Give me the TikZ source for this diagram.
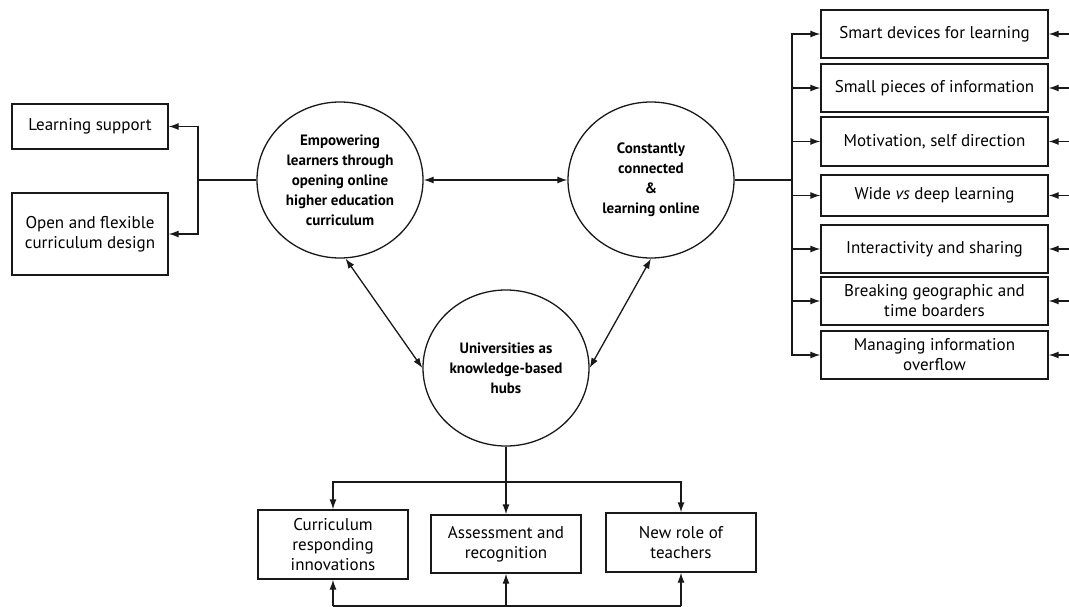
\documentclass[tikz,border=0pt]{standalone}
\usepackage{fontspec}
\setmainfont{PT Sans}
\usepackage{tikz}
\usetikzlibrary{shapes.geometric, positioning, arrows.meta}

\begin{document}
\begin{tikzpicture}[x=1pt, y=-1pt, >={Latex[length=10pt, width=7pt]}, line width=1.3pt, draw=black!90]
\tikzstyle{hub}=[ellipse, draw, minimum width=166pt, minimum height=156pt, inner sep=0pt, align=center, font=\fontsize{15}{20}\selectfont\bfseries]
\tikzstyle{item}=[rectangle, draw, inner sep=0pt, align=center, font=\fontsize{17}{20}\selectfont]
\useasboundingbox (0,0) rectangle (1069,607);

% hubs
\node[hub] (empower) at (340,180) {Empowering\\learners through\\opening online\\higher education\\curriculum};
\node[hub] (connect) at (651,180) {Constantly\\connected\\\&\\learning online};
\node[hub] (univ) at (506,368) {Universities as\\knowledge-based\\hubs};

% left boxes
\node[item, minimum width=156pt, minimum height=45pt] (support) at (90,126.5) {Learning support};
\node[item, minimum width=156pt, minimum height=82pt] (design) at (90,234) {Open and flexible\\curriculum design};

% right boxes
\node[item, minimum width=227pt, minimum height=48pt] (r1) at (934.5,34) {Smart devices for learning};
\node[item, minimum width=227pt, minimum height=48pt] (r2) at (934.5,88) {Small pieces of information};
\node[item, minimum width=227pt, minimum height=49pt] (r3) at (934.5,141.5) {Motivation, self direction};
\node[item, minimum width=227pt, minimum height=41pt] (r4) at (934.5,195.5) {Wide \emph{vs} deep learning};
\node[item, minimum width=227pt, minimum height=48pt] (r5) at (934.5,249) {Interactivity and sharing};
\node[item, minimum width=227pt, minimum height=48pt] (r6) at (934.5,301) {Breaking geographic and\\time boarders};
\node[item, minimum width=227pt, minimum height=48pt] (r7) at (934.5,355) {Managing information\\overflow};

% bottom boxes
\node[item, minimum width=150pt, minimum height=69pt] (b1) at (333,544.5) {Curriculum\\responding\\innovations};
\node[item, minimum width=150pt, minimum height=58pt] (b2) at (506,544) {Assessment and\\recognition};
\node[item, minimum width=150pt, minimum height=59pt] (b3) at (681,542.5) {New role of\\teachers};

% junctions
\coordinate (ljoin) at (198,180);
\coordinate (rjoin) at (792,180);
\coordinate (bjoin) at (506,482);

% hub links
\draw[<->] (empower.east) -- (connect.west);
\draw[<->] (empower.-86) -- (univ.west);
\draw[<->] (connect.south) -- (univ.east);

% left branch
\draw[line width=2pt] (empower.west) -- (ljoin);
\draw[->] (ljoin) |- (support.east);
\draw[->] (ljoin) |- (design.east);

% right branch
\draw[line width=2pt] (connect.east) -- (rjoin);
\foreach \r in {r1,r2,r3,r4,r5,r6,r7} {
  \draw[->] (rjoin) |- (\r.west);
  \coordinate (\r-in) at (\r.east -| 1069,0);
  \draw[->] (\r-in) -- (\r.east);
}

% bottom branch
\draw (univ.south) -- (bjoin);
\draw[->] (bjoin) -- (b2.north);
\draw[->] (bjoin) -| (b1.north);
\draw[->] (bjoin) -| (b3.north);

\coordinate (bl) at (333,606);
\coordinate (bm) at (506,606);
\coordinate (br) at (681,606);
\draw (bl) -- (br);
\draw[->] (bl) -- (b1.south);
\draw[->] (bm) -- (b2.south);
\draw[->] (br) -- (b3.south);

\end{tikzpicture}
\end{document}
